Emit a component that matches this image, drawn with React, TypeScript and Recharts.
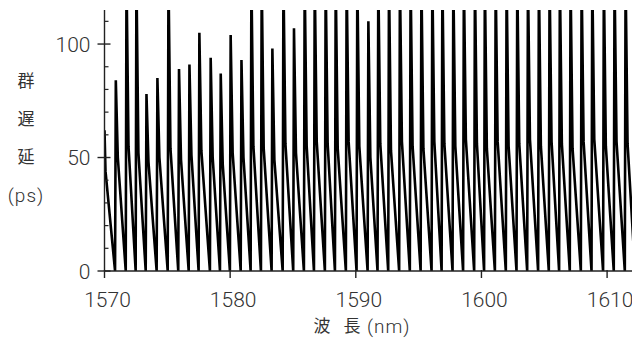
import { LineChart, Line, XAxis, YAxis } from "recharts";

// wavelength (nm) where each sawtooth rises from the floor
const toothStart = [
  1570.84, 1571.69, 1572.48, 1573.28, 1574.15, 1575.03, 1575.87, 1576.7,
  1577.49, 1578.39, 1579.19, 1579.98, 1580.84, 1581.63, 1582.45, 1583.3,
  1584.18, 1585.02, 1585.87, 1586.67, 1587.54, 1588.34, 1589.21, 1590.06,
  1590.94, 1591.73, 1592.58, 1593.45, 1594.3, 1595.16, 1596.03, 1596.83,
  1597.7, 1598.54, 1599.42, 1600.21, 1601.07, 1601.94, 1602.79, 1603.64,
  1604.51, 1605.36, 1606.18, 1607.03, 1607.91, 1608.76, 1609.68, 1610.53,
  1611.41,
];

// group delay at the top of each tooth (ps); >115 runs off the top
const toothPeak = [
  84, 130, 130, 78, 85, 130, 89, 91, 105, 94, 87, 104, 93, 130, 130, 98,
  130, 107, 130, 130, 130, 130, 130, 130, 110, 130, 130, 130, 130, 130, 130,
  130, 130, 130, 130, 130, 130, 130, 130, 130, 130, 130, 130, 130, 130, 130,
  130, 130, 130,
];

// delay where the steep drop turns into the slow slope (ps)
const toothKnee = [
  50, 55, 52, 48, 50, 54, 49, 51, 53, 50, 47, 52, 50, 55, 54, 49, 56, 52, 55,
  57, 56, 54, 57, 55, 50, 56, 53, 57, 55, 54, 57, 56, 55, 58, 56, 54, 57, 55,
  56, 58, 55, 57, 56, 54, 57, 58, 55, 57, 56,
];

// trace before the first tooth and after the last one
const leadW = [1570.0, 1570.08];
const leadV = [62, 44];
const tailW = [1612.22, 1612.3];
const tailV = [0, 28];

const yTicks = [0, 10, 20, 30, 40, 50, 60, 70, 80, 90, 100, 110];
const yMajor = [0, 50, 100];
const xTicks = [1570, 1580, 1590, 1600, 1610];

const data: { w: number; v: number }[] = [];
leadW.forEach((w, i) => data.push({ w, v: leadV[i] }));
toothStart.forEach((s, i) => {
  data.push({ w: s, v: 0 });
  data.push({ w: s + 0.06, v: toothPeak[i] });
  data.push({ w: s + 0.22, v: toothKnee[i] });
});
tailW.forEach((w, i) => data.push({ w, v: tailV[i] }));

const CJK = '"Noto Sans CJK JP", "Noto Sans", sans-serif';
const NUM = 'Roboto, "Noto Sans", sans-serif';
const INK = "#333";

function YTick(props: any) {
  const { x, y, payload } = props;
  const major = yMajor.includes(payload.value);
  if (!major) {
    return <line x1={x} x2={x + 4} y1={y} y2={y} stroke="#222" strokeWidth={1.2} />;
  }
  return (
    <g>
      <line x1={x - 7} x2={x + 6} y1={y} y2={y} stroke="#222" strokeWidth={1.4} />
      <text x={x - 14} y={y} dy="0.36em" textAnchor="end" fontSize={21} fill={INK} fontFamily={NUM} fontWeight={300}>
        {payload.value}
      </text>
    </g>
  );
}

function XTick(props: any) {
  const { x, y, payload } = props;
  return (
    <g>
      <line x1={x} x2={x} y1={y - 1} y2={y + 7} stroke="#222" strokeWidth={1.4} />
      <text x={x + 3} y={y + 28} dy="0.36em" textAnchor="middle" fontSize={21} fill={INK} fontFamily={NUM} fontWeight={300}>
        {payload.value}
      </text>
    </g>
  );
}

export default function App() {
  return (
    <div style={{ position: "relative", width: 632, height: 336 }}>
      <LineChart width={632} height={336} data={data} margin={{ top: 2, right: 4, left: 0, bottom: 0 }}>
        <XAxis
          dataKey="w"
          type="number"
          domain={[1570, 1612.3]}
          allowDataOverflow
          ticks={xTicks}
          interval={0}
          tickSize={0}
          tickMargin={0}
          tickLine={false}
          tick={<XTick />}
          height={73}
          axisLine={{ stroke: "#222", strokeWidth: 1.4 }}
        />
        <YAxis
          type="number"
          domain={[0, 115]}
          allowDataOverflow
          ticks={yTicks}
          interval={0}
          tickSize={0}
          tickMargin={0}
          tickLine={false}
          tick={<YTick />}
          width={96.5}
          axisLine={{ stroke: "#222", strokeWidth: 1.4 }}
        />
        <Line
          type="linear"
          dataKey="v"
          stroke="#000"
          strokeWidth={2.6}
          dot={false}
          isAnimationActive={false}
        />
      </LineChart>
      <svg
        width={632}
        height={336}
        style={{ position: "absolute", left: 0, top: 0, pointerEvents: "none" }}
        fill={INK}
      >
        <g fontFamily={CJK} fontSize={17}>
          <text x={18} y={73} dy="0.36em" textAnchor="middle">群</text>
          <text x={18} y={111} dy="0.36em" textAnchor="middle">遅</text>
          <text x={18} y={149} dy="0.36em" textAnchor="middle">延</text>
          <text x={314} y={318} dy="0.36em" textAnchor="middle">波</text>
          <text x={344} y={318} dy="0.36em" textAnchor="middle">長</text>
        </g>
        <text x={18} y={187} dy="0.36em" textAnchor="middle" fontSize={19} fontFamily={NUM} fontWeight={300} letterSpacing={1}>(ps)</text>
        <text x={359} y={318} dy="0.36em" textAnchor="start" fontSize={19} fontFamily={NUM} fontWeight={300} letterSpacing={1}>(nm)</text>
      </svg>
    </div>
  );
}
